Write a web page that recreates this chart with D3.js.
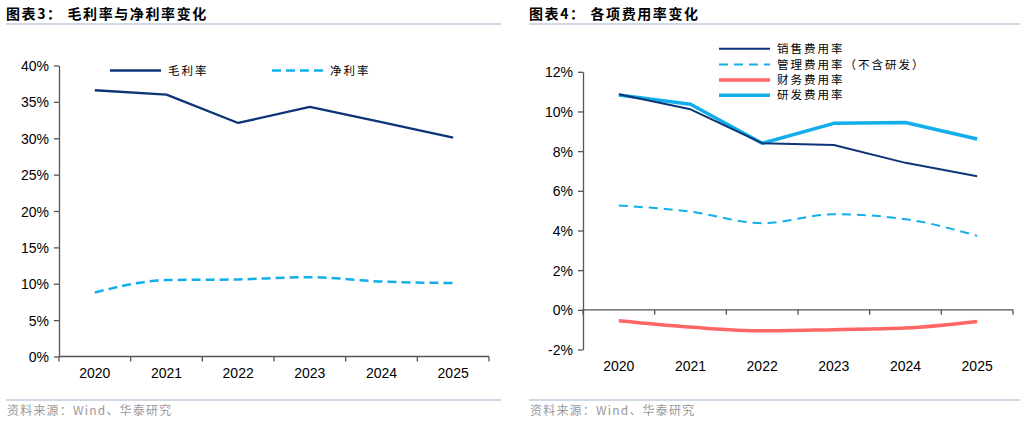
<!DOCTYPE html>
<html>
<head>
<meta charset="utf-8">
<script src="https://cdn.jsdelivr.net/npm/d3@7"></script>
<style>
  body { margin: 0; background: #fff; }
  svg { display: block; }
  .num { font-family: "Liberation Sans", Arial, sans-serif; font-size: 14px; fill: #000; }
  .cjk { font-family: "Noto Sans CJK SC", sans-serif; }
</style>
</head>
<body>
<svg id="chart" width="1030" height="424"></svg>
<script>
// ---- data ----
const years = ["2020", "2021", "2022", "2023", "2024", "2025"];

// 图表3
const grossMargin = [36.6, 36.0, 32.1, 34.3, 32.2, 30.1];
const netMargin = [8.8, 10.5, 10.6, 10.9, 10.3, 10.1];
const marginTicks = [0, 5, 10, 15, 20, 25, 30, 35, 40];

// 图表4
const salesRate = [10.87, 10.11, 8.40, 8.31, 7.41, 6.73];
const adminRate = [5.26, 4.95, 4.37, 4.82, 4.57, 3.73];
const financeRate = [-0.55, -0.87, -1.06, -1.00, -0.92, -0.59];
const rdRate = [10.83, 10.36, 8.40, 9.40, 9.44, 8.61];
const expenseTicks = [-2, 0, 2, 4, 6, 8, 10, 12];

const NAVY = "#0C3577";
const SKY = "#12AEEA";
const RED = "#FF6666";
const RULE = "#9FB6CF";

const svg = d3.select("#chart");

/**
 * 画一个面板：标题、坐标轴、折线、图例
 */
function drawPanel(cfg) {
    const g = svg.append("g");

    // 标题与分隔线
    g.append("text")
        .attr("class", "cjk")
        .attr("x", cfg.left)
        .attr("y", 19)
        .style("font-size", "14px")
        .style("font-weight", "bold")
        .style("letter-spacing", "1.6px")
        .text(cfg.title);
    g.append("line")
        .attr("x1", cfg.left).attr("x2", cfg.right)
        .attr("y1", 24).attr("y2", 24)
        .style("stroke", RULE).style("stroke-width", 1.2);

    // 来源
    g.append("line")
        .attr("x1", cfg.left).attr("x2", cfg.right)
        .attr("y1", 400).attr("y2", 400)
        .style("stroke", RULE).style("stroke-width", 1.2);
    g.append("text")
        .attr("class", "cjk")
        .attr("x", cfg.left + 1)
        .attr("y", 415)
        .style("font-size", "12px")
        .style("fill", "#999")
        .style("letter-spacing", "1.2px")
        .text("资料来源：Wind、华泰研究");

    // 比例尺
    const x = d3.scaleBand().domain(years).range([cfg.axisX0, cfg.axisX1]);
    const y = d3.scaleLinear().domain(cfg.domain).range([cfg.yBottom, cfg.yTop]);
    const cx = d => x(d) + x.bandwidth() / 2;

    // y 轴
    const yAxis = g.append("g")
        .attr("transform", `translate(${cfg.axisX0},0)`)
        .call(d3.axisLeft(y).tickValues(cfg.ticks).tickSize(5).tickSizeOuter(0)
            .tickFormat(d => d + "%"));
    yAxis.select(".domain").style("stroke", "#555").style("stroke-width", 1.3);
    yAxis.selectAll(".tick line").style("stroke", "#555").style("stroke-width", 1.3);
    yAxis.selectAll(".tick text")
        .attr("class", "num")
        .attr("x", -10)
        .attr("dy", "0.36em")
        .style("font-size", "14px");

    // x 轴（刻度在类别分界处）
    const y0 = y(0);
    const xg = g.append("g");
    xg.append("line")
        .attr("x1", cfg.axisX0).attr("x2", cfg.axisX1)
        .attr("y1", y0).attr("y2", y0)
        .style("stroke", "#555").style("stroke-width", 1.3);
    const edges = years.map(d => x(d)).concat([cfg.axisX1]);
    xg.selectAll(".xt").data(edges).enter().append("line")
        .attr("x1", d => d).attr("x2", d => d)
        .attr("y1", y0).attr("y2", y0 + 5)
        .style("stroke", "#555").style("stroke-width", 1.3);
    xg.selectAll(".xl").data(years).enter().append("text")
        .attr("class", "num")
        .attr("x", d => cx(d))
        .attr("y", cfg.xLabelY)
        .attr("text-anchor", "middle")
        .text(d => d);

    // 折线
    cfg.series.forEach(s => {
        const line = d3.line()
            .x((v, i) => cx(years[i]))
            .y(v => y(v))
            .curve(s.smooth ? d3.curveMonotoneX : d3.curveLinear);
        g.append("path")
            .datum(s.values)
            .attr("d", line)
            .style("fill", "none")
            .style("stroke", s.color)
            .style("stroke-width", s.width)
            .style("stroke-dasharray", s.dash || null)
            .style("stroke-linejoin", "round");
    });

    // 图例
    cfg.legend.forEach((s, i) => {
        const lx = cfg.legendPos[i][0];
        const ly = cfg.legendPos[i][1];
        g.append("line")
            .attr("x1", lx).attr("x2", lx + cfg.legendLen)
            .attr("y1", ly).attr("y2", ly)
            .style("stroke", s.color)
            .style("stroke-width", s.width)
            .style("stroke-dasharray", s.dash || null);
        g.append("text")
            .attr("class", "cjk")
            .attr("x", lx + cfg.legendLen + 7)
            .attr("y", ly)
            .attr("dy", "0.36em")
            .style("font-size", "11.5px")
            .style("letter-spacing", "2px")
            .text(s.name);
    });
}

const leftSeries = [
    { name: "毛利率", values: grossMargin, color: NAVY, width: 2.3 },
    { name: "净利率", values: netMargin, color: SKY, width: 2.5, dash: "9,5", smooth: true }
];

drawPanel({
    title: "图表3：  毛利率与净利率变化",
    left: 6, right: 501,
    axisX0: 59, axisX1: 489,
    yTop: 65.5, yBottom: 356.5,
    domain: [0, 40], ticks: marginTicks,
    xLabelY: 378,
    series: leftSeries,
    legend: leftSeries,
    legendPos: [[110, 70.5], [272, 70.5]],
    legendLen: 51
});

const sales = { name: "销售费用率", values: salesRate, color: NAVY, width: 2 };
const admin = { name: "管理费用率（不含研发）", values: adminRate, color: SKY, width: 2, dash: "9,6", smooth: true };
const finance = { name: "财务费用率", values: financeRate, color: RED, width: 3.5, smooth: true };
const rd = { name: "研发费用率", values: rdRate, color: SKY, width: 3.5 };

drawPanel({
    title: "图表4：  各项费用率变化",
    left: 529, right: 1020,
    axisX0: 583, axisX1: 1013,
    yTop: 71.8, yBottom: 349.5,
    domain: [-2, 12], ticks: expenseTicks,
    xLabelY: 371,
    series: [admin, finance, rd, sales],
    legend: [sales, admin, finance, rd],
    legendPos: [[719, 48.7], [719, 64.5], [719, 80], [719, 95.3]],
    legendLen: 51
});
</script>
</body>
</html>
